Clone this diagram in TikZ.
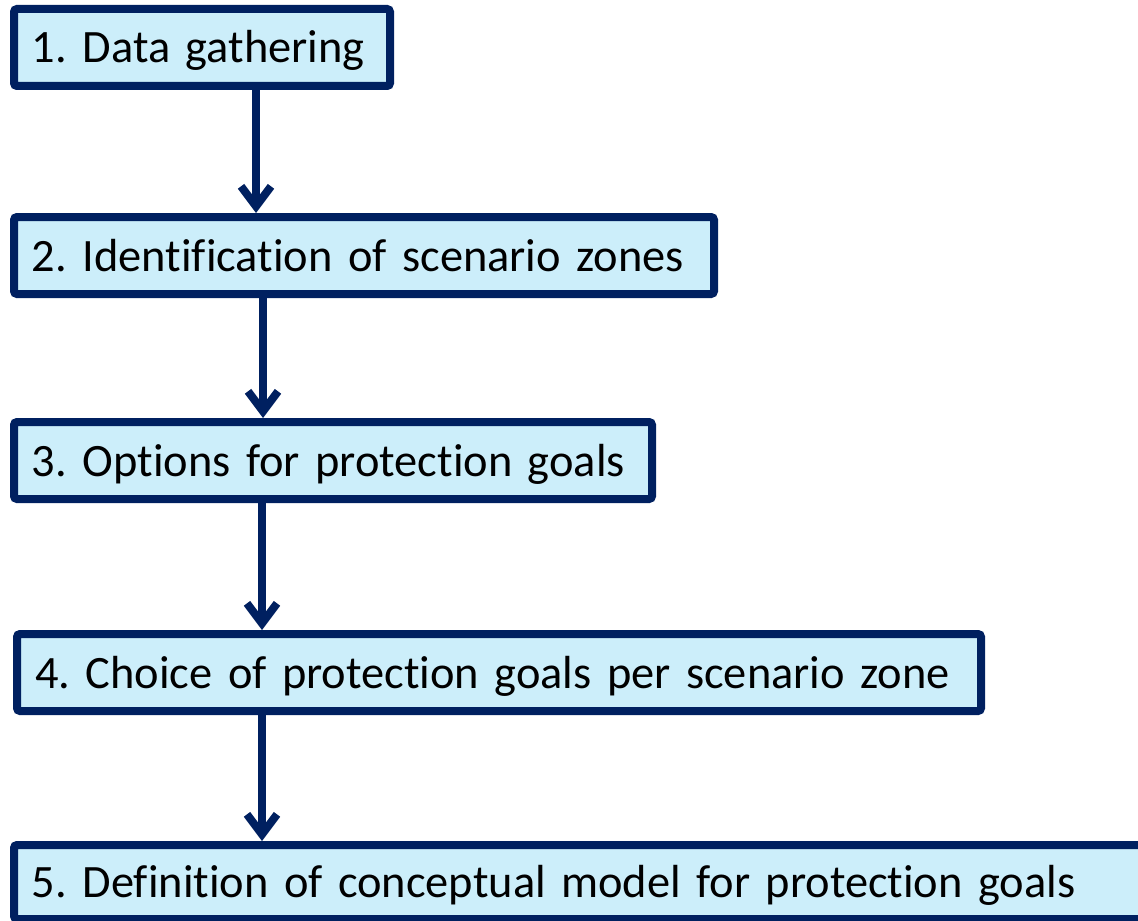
\documentclass[tikz,border=0pt]{standalone}
\usepackage{fontspec}
\setmainfont{Carlito}[RawFeature=-liga]
\usepackage{xcolor}
\usetikzlibrary{arrows.meta}
\definecolor{navy}{RGB}{0,32,96}
\definecolor{skyfill}{RGB}{204,238,250}
\tikzset{stage/.style={rectangle,draw=navy,fill=skyfill,line width=4pt,rounded corners=1.5pt,anchor=north west,inner xsep=9pt,inner ysep=0pt,text height=17pt,text depth=1.5pt,align=left,font=\fontsize{23.2pt}{28pt}\selectfont\frenchspacing},
flow/.style={draw=navy,line width=4pt,-{Straight Barb[length=10pt,width=15pt]}}}

\begin{document}
\begin{tikzpicture}[x=0.5pt,y=-0.5pt]
    \clip (0,0) rectangle (1138,920);
    \node[stage,text width=170pt,minimum height=38.5pt] (b1) at (10,5) {\mbox{1. Data gathering}};
    \node[stage,text width=332pt,minimum height=38.5pt] (b2) at (10,213) {\mbox{2. Identification of scenario zones}};
    \node[stage,text width=301pt,minimum height=38.5pt] (b3) at (10,418) {\mbox{3. Options for protection goals}};
    \node[stage,text width=464pt,minimum height=38.5pt] (b4) at (13,630) {\mbox{4. Choice of protection goals per scenario zone}};
    \node[stage,text width=548pt,minimum height=37pt] (b5) at (10,841) {\mbox{5. Definition of conceptual model for protection goals}};

    \draw [flow] ([xshift=123pt]b1.south west) -- ([xshift=123pt]b2.north west);
    \draw [flow] ([xshift=126.5pt]b2.south west) -- ([xshift=126.5pt]b3.north west);
    \draw [flow] ([xshift=126pt]b3.south west) -- ([xshift=124.5pt]b4.north west);
    \draw [flow] ([xshift=124.5pt]b4.south west) -- ([xshift=126pt]b5.north west);
\end{tikzpicture}
\end{document}
